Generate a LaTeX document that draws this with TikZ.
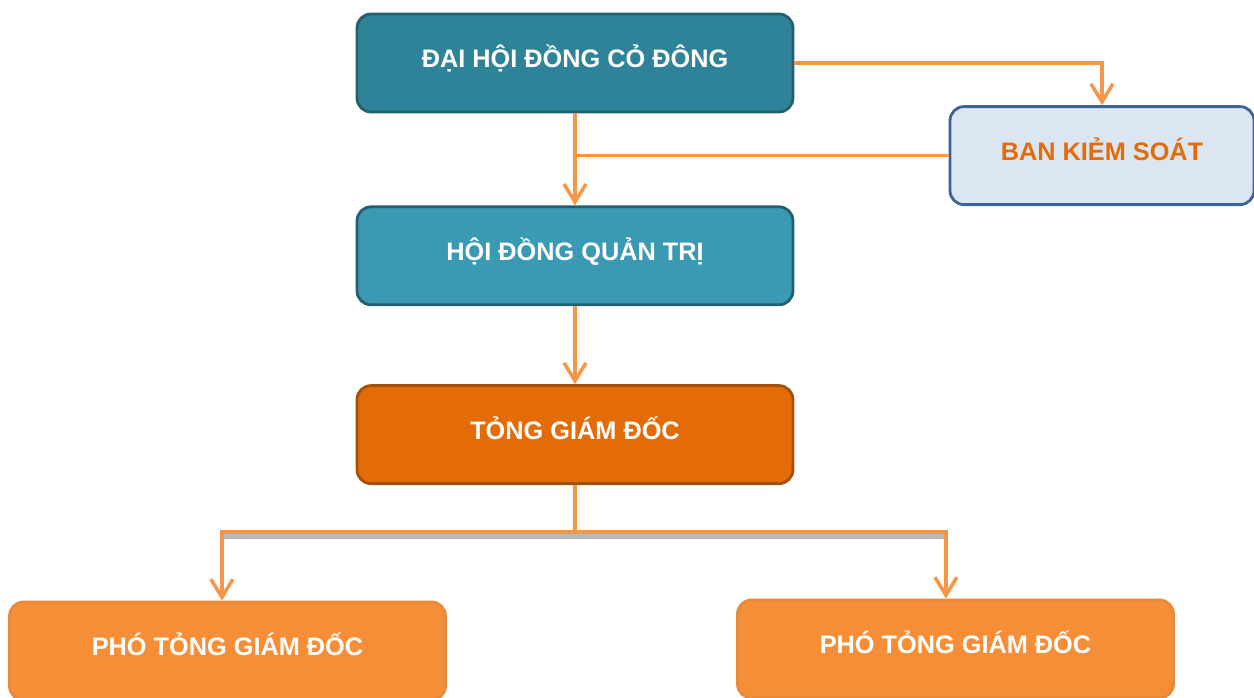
\documentclass[tikz,border=0pt]{standalone}
\usepackage{fontspec}
\setmainfont{Liberation Sans}
\usepackage{tikz}
\usetikzlibrary{positioning,arrows.meta}
\definecolor{tealdark}{HTML}{2F8399}
\definecolor{teallight}{HTML}{3A99B3}
\definecolor{tealedge}{HTML}{235F70}
\definecolor{orgdark}{HTML}{E36C09}
\definecolor{orgedge}{HTML}{A4500B}
\definecolor{orglight}{HTML}{F68E37}
\definecolor{orgline}{HTML}{F79646}
\definecolor{bluepale}{HTML}{DCE6F2}
\definecolor{blueedge}{HTML}{3E6496}

\begin{document}
\begin{tikzpicture}[every node/.style={rectangle, rounded corners=0.35cm, line width=2pt,
                        minimum width=10.9cm, minimum height=2.45cm,
                        text height=0.85em, text depth=0.2em,
                        font=\fontsize{18}{21}\selectfont\bfseries, text=white},
                      link/.style={draw=orgline, line width=2.5pt, -{Straight Barb[length=4.5mm,width=5.5mm]}},
                      plain/.style={draw=orgline, line width=2.5pt},
                      shade/.style={draw=gray!55, line width=3.5pt}]
        \useasboundingbox (0,0) rectangle (31.35,-17.425);
        \node[fill=tealdark, draw=tealedge] (dhcd) at (14.375,-1.575) {ĐẠI HỘI ĐỒNG CỎ ĐÔNG};
        \node[fill=bluepale, draw=blueedge, text=orgdark, minimum width=7.6cm, minimum height=2.45cm]
              (bks) at (27.55,-3.89) {BAN KIẺM SOÁT};
        \node[fill=teallight, draw=tealedge] (hdqt) [below=2.3cm of dhcd] {HỘI ĐỒNG QUẢN TRỊ};
        \node[fill=orgdark, draw=orgedge] (tgd) [below=1.95cm of hdqt] {TỎNG GIÁM ĐỐC};
        \node[fill=orglight, draw=orgdark!80] (ptgd1) at (5.6875,-16.275) {PHÓ TỎNG GIÁM ĐỐC};
        \node[fill=orglight, draw=orgdark!80] (ptgd2) at (23.8875,-16.225) {PHÓ TỎNG GIÁM ĐỐC};
        \coordinate (fork) at ([yshift=-1.175cm]tgd.south);
        \coordinate (in1) at ([xshift=-0.14cm]ptgd1.north);
        \coordinate (in2) at ([xshift=-0.24cm]ptgd2.north);
        \draw[link] (dhcd.east) -| (bks.north);
        \draw[link] (dhcd.south) -- (hdqt.north);
        \draw[plain] (bks.west) -- (bks.west -| dhcd.south);
        \draw[link] (hdqt) -- (tgd);
        \draw[shade] ([yshift=-0.1cm]fork -| in1) -- ([yshift=-0.1cm]fork -| in2);
        \draw[plain] (tgd.south) -- (fork);
        \draw[link] (fork) -| (in1);
        \draw[link] (fork) -| (in2);
      \end{tikzpicture}
\end{document}
